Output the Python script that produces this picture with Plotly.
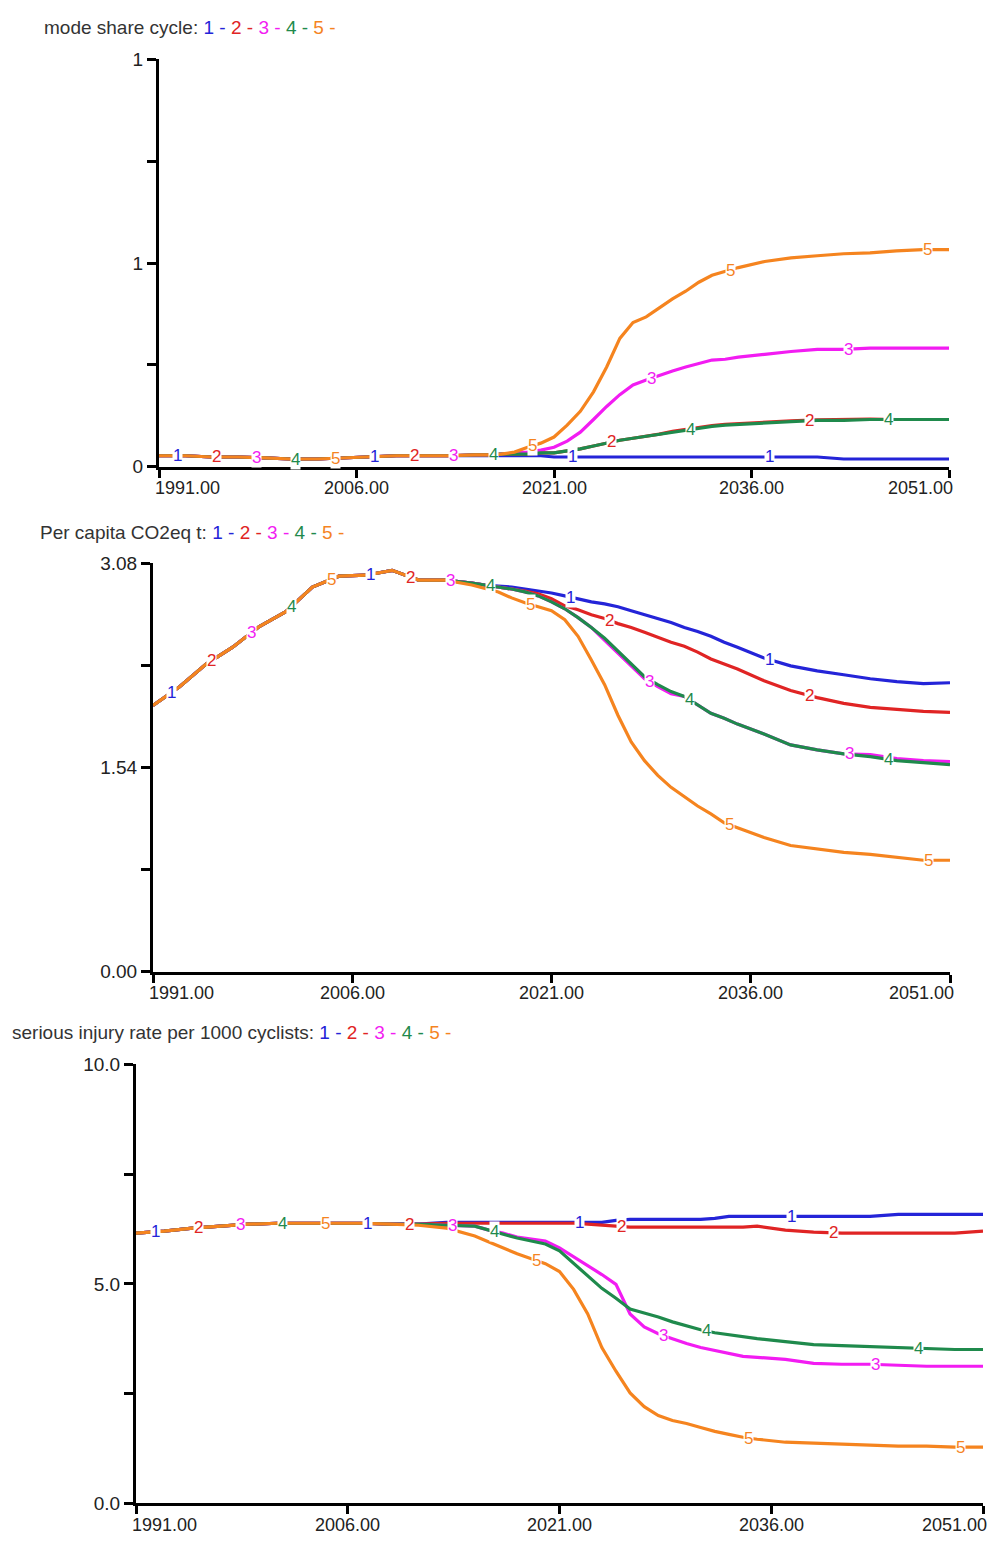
import numpy as np
import plotly.graph_objects as go

# ---------------- data ----------------
years = [1991, 1993, 1995, 1997, 1999, 2001, 2003, 2005, 2007, 2009, 2011, 2013,
         2015, 2016, 2017, 2018, 2019, 2020, 2021, 2022, 2023, 2024, 2025, 2026,
         2027, 2028, 2029, 2030, 2031, 2032, 2033, 2034, 2035,
         2037, 2039, 2041, 2043, 2045, 2047, 2049, 2051]

series_names = ["1", "2", "3", "4", "5"]
series_colors = ["#2424d8", "#e02424", "#f21cf2", "#1f8a4c", "#f5841f"]

x_tick_vals = [1991, 2006, 2021, 2036, 2051]
x_tick_text = ["1991.00", "2006.00", "2021.00", "2036.00", "2051.00"]

# chart 1: mode share cycle
ms_title = "mode share cycle"
ms_tickvals = [0, 0.025, 0.05, 0.075, 0.1]
ms_ticktext = ["0", "", "1", "", "1"]
ms_1 = [0.0027, 0.0027, 0.0024, 0.0024, 0.0022, 0.0019, 0.0019, 0.0022, 0.0024, 0.0027, 0.0027, 0.0027,
        0.0027, 0.0027, 0.0027, 0.0027, 0.0027, 0.0027, 0.0024, 0.0024, 0.0024, 0.0024, 0.0024, 0.0024,
        0.0024, 0.0024, 0.0024, 0.0024, 0.0024, 0.0024, 0.0024, 0.0024, 0.0024,
        0.0024, 0.0024, 0.0024, 0.0019, 0.0019, 0.0019, 0.0019, 0.0019]
ms_2 = [0.0027, 0.0027, 0.0024, 0.0024, 0.0022, 0.0019, 0.0019, 0.0022, 0.0024, 0.0027, 0.0027, 0.0027,
        0.0029, 0.0029, 0.0031, 0.0031, 0.0031, 0.0034, 0.0034, 0.0039, 0.0044, 0.0051, 0.0058, 0.0065,
        0.0070, 0.0075, 0.0080, 0.0087, 0.0092, 0.0097, 0.0101, 0.0104, 0.0106,
        0.0110, 0.0113, 0.0115, 0.0116, 0.0117, 0.0116, 0.0116, 0.0116]
ms_3 = [0.0027, 0.0027, 0.0024, 0.0024, 0.0022, 0.0019, 0.0019, 0.0022, 0.0024, 0.0027, 0.0027, 0.0027,
        0.0029, 0.0029, 0.0031, 0.0034, 0.0036, 0.0041, 0.0048, 0.0063, 0.0085, 0.0116, 0.0148, 0.0177,
        0.0201, 0.0213, 0.0225, 0.0235, 0.0245, 0.0254, 0.0262, 0.0264, 0.0269,
        0.0276, 0.0283, 0.0288, 0.0288, 0.0291, 0.0291, 0.0291, 0.0291]
ms_4 = [0.0027, 0.0027, 0.0024, 0.0024, 0.0022, 0.0019, 0.0019, 0.0022, 0.0024, 0.0027, 0.0027, 0.0027,
        0.0029, 0.0029, 0.0031, 0.0031, 0.0031, 0.0034, 0.0034, 0.0039, 0.0044, 0.0051, 0.0058, 0.0065,
        0.0070, 0.0075, 0.0080, 0.0085, 0.0090, 0.0094, 0.0099, 0.0102, 0.0104,
        0.0109, 0.0111, 0.0114, 0.0114, 0.0116, 0.0116, 0.0116, 0.0116]
ms_5 = [0.0027, 0.0027, 0.0024, 0.0024, 0.0022, 0.0019, 0.0019, 0.0022, 0.0024, 0.0027, 0.0027, 0.0027,
        0.0029, 0.0029, 0.0031, 0.0036, 0.0048, 0.0058, 0.0073, 0.0102, 0.0136, 0.0184, 0.0245, 0.0315,
        0.0354, 0.0368, 0.0390, 0.0412, 0.0431, 0.0453, 0.0470, 0.0479, 0.0489,
        0.0504, 0.0513, 0.0518, 0.0523, 0.0525, 0.0530, 0.0533, 0.0533]

# chart 2: per capita CO2eq t
co2_title = "Per capita CO2eq t"
co2_tickvals = [0, 0.77, 1.54, 2.31, 3.08]
co2_ticktext = ["0.00", "", "1.54", "", "3.08"]
co2_1 = [2.009, 2.150, 2.321, 2.448, 2.604, 2.716, 2.902, 2.984, 2.991, 3.028, 2.954, 2.954,
         2.932, 2.917, 2.909, 2.902, 2.887, 2.872, 2.857, 2.835, 2.813, 2.790, 2.775, 2.753,
         2.723, 2.693, 2.664, 2.634, 2.597, 2.567, 2.530, 2.485, 2.448,
         2.366, 2.307, 2.269, 2.240, 2.210, 2.188, 2.173, 2.180]
co2_2 = [2.009, 2.150, 2.321, 2.448, 2.604, 2.716, 2.902, 2.984, 2.991, 3.028, 2.954, 2.954,
         2.932, 2.917, 2.902, 2.887, 2.872, 2.850, 2.813, 2.760, 2.731, 2.693, 2.664, 2.626,
         2.597, 2.560, 2.522, 2.485, 2.455, 2.411, 2.359, 2.321, 2.284,
         2.195, 2.121, 2.068, 2.024, 1.994, 1.979, 1.964, 1.957]
co2_3 = [2.009, 2.150, 2.321, 2.448, 2.604, 2.716, 2.902, 2.984, 2.991, 3.028, 2.954, 2.954,
         2.932, 2.917, 2.902, 2.887, 2.865, 2.835, 2.790, 2.738, 2.671, 2.597, 2.500, 2.403,
         2.299, 2.210, 2.150, 2.098, 2.076, 2.016, 1.949, 1.912, 1.868,
         1.793, 1.711, 1.674, 1.644, 1.637, 1.607, 1.592, 1.585]
co2_4 = [2.009, 2.150, 2.321, 2.448, 2.604, 2.716, 2.902, 2.984, 2.991, 3.028, 2.954, 2.954,
         2.932, 2.917, 2.902, 2.887, 2.865, 2.835, 2.790, 2.738, 2.671, 2.597, 2.515, 2.418,
         2.314, 2.225, 2.165, 2.113, 2.076, 2.016, 1.949, 1.912, 1.868,
         1.793, 1.711, 1.674, 1.644, 1.622, 1.592, 1.577, 1.563]
co2_5 = [2.009, 2.150, 2.321, 2.448, 2.604, 2.716, 2.902, 2.984, 2.991, 3.028, 2.954, 2.954,
         2.917, 2.894, 2.865, 2.820, 2.783, 2.753, 2.723, 2.656, 2.530, 2.351, 2.165, 1.935,
         1.734, 1.592, 1.481, 1.391, 1.317, 1.250, 1.190, 1.124, 1.086,
         1.012, 0.952, 0.923, 0.900, 0.885, 0.863, 0.841, 0.841]

# chart 3: serious injury rate per 1000 cyclists
inj_title = "serious injury rate per 1000 cyclists"
inj_tickvals = [0, 2.5, 5, 7.5, 10]
inj_ticktext = ["0.0", "", "5.0", "", "10.0"]
inj_1 = [6.157, 6.202, 6.270, 6.315, 6.360, 6.382, 6.382, 6.382, 6.382, 6.360, 6.360, 6.404,
         6.404, 6.404, 6.404, 6.404, 6.404, 6.404, 6.404, 6.404, 6.404, 6.404, 6.449, 6.472,
         6.472, 6.472, 6.472, 6.472, 6.472, 6.494, 6.539, 6.539, 6.539,
         6.539, 6.539, 6.539, 6.539, 6.584, 6.584, 6.584, 6.584]
inj_2 = [6.157, 6.202, 6.270, 6.315, 6.360, 6.382, 6.382, 6.382, 6.382, 6.360, 6.360, 6.382,
         6.382, 6.382, 6.382, 6.382, 6.382, 6.382, 6.382, 6.382, 6.360, 6.337, 6.315, 6.292,
         6.292, 6.292, 6.292, 6.292, 6.292, 6.292, 6.292, 6.292, 6.315,
         6.225, 6.180, 6.157, 6.157, 6.157, 6.157, 6.157, 6.202]
inj_3 = [6.157, 6.202, 6.270, 6.315, 6.360, 6.382, 6.382, 6.382, 6.382, 6.360, 6.360, 6.337,
         6.315, 6.225, 6.157, 6.067, 6.022, 5.978, 5.820, 5.618, 5.416, 5.213, 4.989, 4.315,
         4.022, 3.865, 3.753, 3.640, 3.551, 3.483, 3.416, 3.348, 3.326,
         3.281, 3.191, 3.169, 3.169, 3.146, 3.124, 3.124, 3.124]
inj_4 = [6.157, 6.202, 6.270, 6.315, 6.360, 6.382, 6.382, 6.382, 6.382, 6.360, 6.360, 6.337,
         6.315, 6.225, 6.135, 6.045, 5.978, 5.910, 5.753, 5.461, 5.169, 4.899, 4.674, 4.427,
         4.337, 4.247, 4.135, 4.045, 3.955, 3.888, 3.843, 3.798, 3.753,
         3.685, 3.618, 3.596, 3.573, 3.551, 3.528, 3.506, 3.506]
inj_5 = [6.157, 6.202, 6.270, 6.315, 6.360, 6.382, 6.382, 6.382, 6.382, 6.360, 6.337, 6.270,
         6.090, 5.955, 5.820, 5.685, 5.573, 5.461, 5.281, 4.876, 4.315, 3.551, 3.011, 2.517,
         2.202, 2.000, 1.888, 1.820, 1.730, 1.640, 1.573, 1.506, 1.461,
         1.393, 1.371, 1.348, 1.326, 1.303, 1.303, 1.281, 1.281]

# ---------------- layout geometry ----------------
# page pixels of the reference; the page body has an 8px margin, so the
# figure itself is 16px smaller and all page positions are offset by 8px.
PAGE_W, PAGE_H = 996, 1548
OFF = 8
W, H = PAGE_W - 2 * OFF, PAGE_H - 2 * OFF
FONT = "Liberation Sans, Arial, sans-serif"

charts = [
    dict(title=ms_title, series=[ms_1, ms_2, ms_3, ms_4, ms_5], yr=[0, 0.1],
         tv=ms_tickvals, tt=ms_ticktext, left=159, right=949, top=50, bottom=463,
         title_x=42, title_y=18),
    dict(title=co2_title, series=[co2_1, co2_2, co2_3, co2_4, co2_5], yr=[0, 3.08],
         tv=co2_tickvals, tt=co2_ticktext, left=153, right=950, top=561, bottom=975,
         title_x=38, title_y=530),
    dict(title=inj_title, series=[inj_1, inj_2, inj_3, inj_4, inj_5], yr=[0, 10],
         tv=inj_tickvals, tt=inj_ticktext, left=136, right=983, top=1069, bottom=1514,
         title_x=10, title_y=1037),
]


def px_x(p):
    return (p - OFF) / W


def px_y(p):
    return 1 - (p - OFF) / H


fig = go.Figure()
annotations = []
layout = dict(width=W, height=H, margin=dict(l=0, r=0, t=0, b=0),
              paper_bgcolor="white", plot_bgcolor="white", showlegend=False)

for i, c in enumerate(charts):
    sfx = "" if i == 0 else str(i + 1)
    xa, ya = "x" + sfx, "y" + sfx
    for k, (vals, col) in enumerate(zip(c["series"], series_colors)):
        fig.add_trace(go.Scatter(x=years, y=vals, mode="lines", xaxis=xa, yaxis=ya,
                                 line=dict(color=col, width=3.2), hoverinfo="skip"))
        # numbered labels along each line
        for n in range(4):
            ly = 1992.4 + 3 * k + 15 * n
            yv = float(np.interp(ly, years, vals))
            annotations.append(dict(x=ly, y=yv, xref=xa, yref=ya, text=series_names[k],
                                    showarrow=False, bgcolor="white", borderpad=0,
                                    font=dict(family=FONT, size=17, color=col)))
    layout["xaxis" + sfx] = dict(
        domain=[px_x(c["left"]), px_x(c["right"])], anchor=ya, range=[1991, 2051],
        tickvals=x_tick_vals, showticklabels=False, ticks="outside", ticklen=8,
        tickwidth=3, tickcolor="black", showline=True, linewidth=3, linecolor="black",
        showgrid=False, zeroline=False)
    layout["yaxis" + sfx] = dict(
        domain=[px_y(c["bottom"]), px_y(c["top"])], anchor=xa, range=c["yr"],
        tickvals=c["tv"], ticktext=c["tt"], ticks="outside", ticklen=9, tickwidth=3,
        tickcolor="black", showline=True, linewidth=3, linecolor="black",
        showgrid=False, zeroline=False,
        tickfont=dict(family=FONT, size=19, color="#222"))
    # x tick labels
    for j, (tv, tt) in enumerate(zip(x_tick_vals, x_tick_text)):
        anchor = "left" if j == 0 else ("right" if j == len(x_tick_vals) - 1 else "center")
        shift = -6 if j == 0 else (6 if j == len(x_tick_vals) - 1 else 0)
        annotations.append(dict(x=tv, y=px_y(c["bottom"] + 22), xref=xa, yref="paper",
                                text=tt, showarrow=False, xanchor=anchor, yanchor="middle",
                                xshift=shift,
                                font=dict(family=FONT, size=18, color="#222")))
    # title with coloured legend
    parts = " ".join(f'<span style="color:{col}">{nm} -</span>'
                     for nm, col in zip(series_names, series_colors))
    annotations.append(dict(x=px_x(c["title_x"]), y=px_y(c["title_y"]), xref="paper",
                            yref="paper", text=f"{c['title']}: {parts}", showarrow=False,
                            xanchor="left", yanchor="middle",
                            font=dict(family=FONT, size=19, color="#333")))

layout["annotations"] = annotations
fig.update_layout(**layout)
fig.write_html("out.html")
